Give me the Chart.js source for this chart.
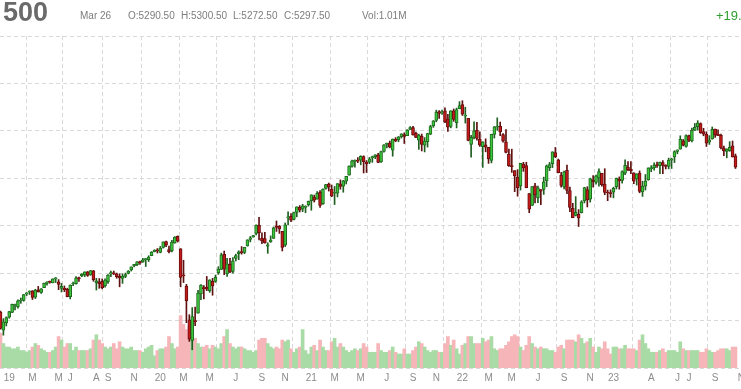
<!DOCTYPE html>
<html>
<head>
<meta charset="utf-8">
<script src="https://cdn.jsdelivr.net/npm/chart.js@4.4.1/dist/chart.umd.min.js"></script>
<style>
  html, body { margin: 0; padding: 0; background: #fff; }
  #wrap { position: relative; width: 741px; height: 389px; overflow: hidden; font-family: "Liberation Sans", Arial, sans-serif; }
  #chart { position: absolute; left: 0; top: 0; }
  #sym { position: absolute; right: 693px; top: -1px; font-size: 27px; line-height: 27px; font-weight: bold; color: #6a6a6a; white-space: nowrap; }
  .hd { position: absolute; top: 10px; font-size: 10px; line-height: 11px; color: #7d7d7d; white-space: nowrap; }
  #chg { position: absolute; left: 716px; top: 9px; font-size: 13px; line-height: 13px; color: #2f9e2f; white-space: nowrap; }
</style>
</head>
<body>
<div id="wrap">
  <canvas id="chart" width="741" height="389"></canvas>
  <div id="sym">S&amp;P 500</div>
  <div class="hd" style="left:80px">Mar 26</div>
  <div class="hd" style="left:128px">O:5290.50</div>
  <div class="hd" style="left:181px">H:5300.50</div>
  <div class="hd" style="left:233px">L:5272.50</div>
  <div class="hd" style="left:284px">C:5297.50</div>
  <div class="hd" style="left:362px">Vol:1.01M</div>
  <div id="chg">+19.75</div>
</div>
<script>
// weekly bars, first one is the week of 2018-12-17
const firstWeek = '2018-12-17'

const opens = [
	2590,2400,2476,2535,2586,2659,2644,2706,2713,2780,
	2800,2814,2747,2823,2797,2848,2892,2912,2898,2940,
	2909,2840,2841,2830,2752,2886,2889,2951,2971,2980,
	3013,2981,3024,2898,2908,2913,2866,2909,2988,2996,
	2994,2967,2944,2965,2996,3035,3078,3089,3123,3117,
	3143,3141,3183,3227,3240,3218,3271,3333,3248,3235,
	3318,3388,3257,2974,2863,2509,2290,2498,2579,2782,
	2846,2854,2815,2915,2913,3004,3038,3199,2993,3094,
	3018,3155,3205,3224,3219,3288,3356,3380,3418,3507,
	3370,3364,3285,3333,3367,3500,3494,3441,3296,3583,
	3600,3566,3641,3694,3675,3694,3723,3764,3803,3781,
	3851,3732,3892,3940,3886,3842,3844,3942,3916,3969,
	4034,4124,4179,4185,4192,4228,4169,4170,4216,4229,
	4248,4173,4284,4356,4372,4296,4410,4407,4438,4462,
	4450,4514,4535,4474,4403,4442,4348,4385,4464,4553,
	4610,4702,4689,4712,4628,4548,4710,4587,4733,4778,
	4655,4632,4356,4431,4505,4412,4332,4354,4327,4188,
	4462,4541,4547,4462,4385,4255,4130,4081,4013,3920,
	4151,4134,3839,3715,3920,3793,3880,3883,3971,4113,
	4155,4270,4195,4034,3910,4083,3871,3682,3609,3619,
	3638,3762,3881,3780,3978,3956,4005,4052,3939,3853,
	3843,3853,3911,3989,3978,4055,4119,4096,4057,3992,
	4055,3855,3917,3982,4102,4110,4140,4132,4166,4136,
	4126,4190,4226,4283,4308,4396,4337,4450,4394,4508,
	4543,4578,4492,4464,4380,4415,4520,4464,4453,4318,
	4284,4290,4342,4238
]
const highs = [
	2601,2520,2539,2598,2675,2673,2718,2738,2776,2795,
	2814,2816,2830,2860,2837,2894,2911,2917,2940,2954,
	2932,2892,2865,2841,2876,2905,2964,2959,2996,3014,
	3018,3028,3029,2945,2943,2939,2940,2985,3021,3022,
	3001,2993,2993,3001,3027,3066,3094,3121,3127,3155,
	3155,3183,3227,3247,3259,3282,3329,3337,3285,3347,
	3385,3393,3259,3136,2882,2562,2637,2641,2819,2880,
	2869,2965,2930,2945,2980,3068,3211,3233,3155,3155,
	3165,3200,3236,3280,3272,3352,3387,3399,3509,3588,
	3425,3429,3320,3393,3486,3550,3502,3441,3529,3646,
	3628,3644,3699,3712,3726,3711,3760,3826,3823,3860,
	3870,3889,3937,3950,3929,3914,3944,3983,3978,4020,
	4130,4191,4195,4218,4238,4237,4187,4220,4234,4249,
	4262,4286,4356,4372,4393,4415,4429,4440,4469,4480,
	4513,4545,4549,4486,4465,4466,4429,4475,4559,4608,
	4718,4714,4718,4744,4673,4713,4731,4740,4808,4818,
	4749,4632,4453,4595,4590,4490,4385,4416,4327,4465,
	4546,4637,4593,4471,4513,4308,4307,4081,4091,4158,
	4168,4169,3840,3913,3946,3919,3880,4012,4140,4167,
	4280,4325,4203,4062,4076,4140,3907,3736,3807,3670,
	3764,3905,3911,4001,4028,4034,4101,4052,4101,3876,
	3878,3906,4003,4015,4079,4195,4176,4176,4058,4048,
	4078,3969,4040,4110,4133,4163,4170,4170,4187,4143,
	4213,4212,4290,4299,4448,4409,4458,4456,4528,4578,
	4607,4584,4527,4490,4450,4541,4520,4511,4466,4340,
	4311,4386,4393,4256
]
const lows = [
	2409,2346,2443,2525,2584,2613,2631,2682,2704,2764,
	2775,2722,2732,2800,2785,2848,2873,2893,2898,2901,
	2825,2801,2805,2750,2728,2867,2883,2914,2964,2963,
	2966,2977,2914,2822,2840,2834,2853,2891,2964,2985,
	2946,2856,2892,2952,2992,3022,3066,3078,3091,3113,
	3070,3122,3183,3224,3212,3214,3264,3280,3214,3223,
	3315,3328,2856,2901,2478,2281,2192,2447,2579,2720,
	2727,2815,2798,2767,2903,2987,3038,2984,2965,3004,
	3000,3128,3142,3200,3205,3284,3329,3379,3403,3349,
	3310,3317,3209,3324,3365,3440,3419,3234,3280,3512,
	3543,3560,3594,3645,3648,3637,3706,3663,3749,3781,
	3694,3725,3884,3865,3806,3723,3804,3885,3853,3940,
	4034,4118,4118,4165,4142,4056,4061,4155,4168,4207,
	4164,4167,4276,4321,4321,4233,4385,4385,4424,4367,
	4450,4513,4455,4427,4305,4288,4278,4329,4459,4537,
	4595,4630,4672,4585,4495,4532,4600,4531,4733,4662,
	4582,4395,4222,4415,4401,4335,4115,4279,4157,4162,
	4424,4506,4450,4381,4267,4124,4062,3859,3811,3876,
	4073,3900,3637,3715,3741,3742,3721,3830,3911,4080,
	4113,4218,4057,3907,3887,3837,3647,3584,3603,3492,
	3634,3740,3698,3749,3906,3939,3918,3918,3827,3764,
	3800,3794,3887,3885,3949,4037,4079,4048,3943,3928,
	3847,3809,3876,3979,4069,4085,4114,4049,4048,4098,
	4099,4103,4166,4258,4307,4341,4328,4385,4383,4503,
	4507,4474,4448,4335,4357,4412,4431,4450,4309,4238,
	4216,4284,4223,4103
]
const closes = [
	2417,2486,2532,2596,2671,2665,2707,2708,2775,2793,
	2804,2743,2822,2801,2834,2893,2907,2905,2940,2946,
	2881,2860,2826,2752,2873,2887,2950,2942,2990,3014,
	2977,3026,2932,2919,2889,2847,2926,2979,3007,2992,
	2962,2952,2970,2986,3023,3067,3093,3120,3110,3141,
	3146,3169,3221,3240,3235,3265,3329,3295,3226,3328,
	3380,3338,2954,2972,2711,2305,2541,2489,2790,2875,
	2837,2831,2930,2864,2955,3044,3194,3041,3098,3009,
	3130,3185,3225,3216,3271,3351,3373,3397,3508,3427,
	3341,3319,3298,3348,3477,3483,3465,3270,3509,3585,
	3558,3638,3699,3663,3709,3703,3756,3825,3768,3841,
	3714,3887,3934,3907,3811,3842,3943,3913,3974,4020,
	4129,4185,4180,4181,4232,4174,4155,4204,4229,4247,
	4166,4281,4352,4370,4327,4412,4395,4437,4468,4441,
	4509,4535,4458,4432,4455,4357,4391,4471,4545,4605,
	4697,4683,4698,4595,4538,4712,4620,4725,4766,4677,
	4662,4398,4432,4500,4419,4349,4385,4329,4204,4463,
	4543,4546,4488,4392,4272,4132,4123,4024,3901,4158,
	4108,3901,3675,3912,3825,3899,3863,3962,4130,4145,
	4280,4228,4058,3924,4067,3873,3693,3586,3640,3583,
	3753,3901,3771,3993,3965,4026,4072,3934,3852,3845,
	3839,3895,3999,3972,4071,4136,4090,4079,3970,4046,
	3862,3917,3971,4109,4105,4138,4133,4169,4136,4124,
	4192,4205,4282,4299,4410,4348,4450,4399,4505,4536,
	4582,4478,4464,4370,4406,4516,4458,4450,4320,4288,
	4308,4327,4224,4117
]
// millions of contracts
const volumes = [
	10,7,6,6,5.5,5.5,6,5,5,4.5,
	5,6,7,6.5,5.5,5,4.5,4.5,5,6,
	9,8,6,7,7,5,6,5,5,5,
	5,5.5,8,9.5,8,7,6,5.5,6,7,
	5.5,7.5,6,5.5,5.5,6,5,5,5,4.5,
	5.5,6,6.5,3.5,5,5.5,5.5,6,9,7,
	5.5,6,15,12.5,11,12,10,8.5,7,6,
	6,6.5,5.5,6.5,6,5.5,7,9,11,7,
	6,5.5,6,6,5.5,5,5,4.5,5,8,
	8.5,8.5,7,6,5.5,6,5.5,8,7.5,8,
	5.5,4.5,5.5,6,11,5,4,6,6.5,5,
	8,6,5,5,7.5,8.5,6,7,6,5,
	4.5,5,5.5,5,5.5,7,6,4.5,4.5,4.5,
	7,5,4.5,4.5,5,6,4.5,4,4,5.5,
	4,4,5,6,7.5,7,6,5,4.5,5,
	5,4.5,4.5,7,9,6.5,8,5.5,4,6.5,
	7,9,9,7,7,7,8.5,7.5,8,9,
	5.5,5,5.5,5.5,6.5,7.5,9,9.5,9,6,
	5,6.5,9,7,6,5.5,6,5.5,5.5,5,
	5,4.5,6,6.5,5.5,8,8,8,7.5,9.5,
	8.5,7,7.5,8.5,6,4.5,6,5.5,7.5,5.5,
	4,6,6,5.5,5.5,6.5,5.5,5.5,5.5,5,
	8,9.5,7,5.5,4.5,4.5,4.5,5,5.5,4.5,
	5,5,5,4.5,7.5,5.5,5,5,5,5,
	5,4.5,4.5,5.5,5,4.5,4.5,5,5.5,5.5,
	5.5,5,6,6
]

// first bar of each labelled month
const monthTickIdx = [3,11,20,24,33,37,46,55,63,72,81,90,98,107,115,124,133,142,150,159,168,176,185,194,203,211,224,233,237,246,255]
const monthTickLbl = ['19','M','M','J','A','S','N','20','M','M','J','S','N','21','M','M','J','S','N','22','M','M','J','S','N','23','A','J','J','S','N']
// first bar of each quarter, for the vertical grid
const quarterIdx = [3,15,28,42,55,68,81,94,107,120,133,146,159,172,185,198,211,224,237,250]
const priceTicks = [2000,2500,3000,3500,4000,4500,5000,5500]

const weekIdx = closes.map((c, i) => i)
const isUp = closes.map((c, i) => c >= opens[i])

const xMin = -0.17
const xMax = 254.9
const gridColor = '#d9d9d9'
const font = "'Liberation Sans', Arial, sans-serif"

// keep the axes from reserving room for labels that run off the edges
const noPad = s => {
	s.paddingLeft = 0
	s.paddingRight = 0
	s.paddingTop = 0
	s.paddingBottom = 0
}

new Chart(document.getElementById('chart').getContext('2d'), {
	type: 'bar',
	data: {
		datasets: [
			{
				label: 'Volume',
				yAxisID: 'yv',
				order: 3,
				grouped: false,
				data: weekIdx.map(i => ({ x: i, y: volumes[i] })),
				backgroundColor: isUp.map(u => (u ? '#a8dba5' : '#f6b6b9')),
				borderWidth: 0,
				barThickness: 3,
			},
			{
				label: 'Range',
				yAxisID: 'y',
				order: 2,
				grouped: false,
				data: weekIdx.map(i => ({ x: i, y: [lows[i], highs[i]] })),
				backgroundColor: isUp.map(u => (u ? '#1f5f1f' : '#5f1010')),
				borderWidth: 0,
				barThickness: 1,
			},
			{
				label: 'Open/Close',
				yAxisID: 'y',
				order: 1,
				grouped: false,
				data: weekIdx.map(i => ({ x: i, y: [opens[i], closes[i]] })),
				backgroundColor: isUp.map(u => (u ? '#3cc43c' : '#c41c1c')),
				borderColor: isUp.map(u => (u ? '#1e6a1e' : '#6a0c0c')),
				borderWidth: 1,
				borderSkipped: false,
				barThickness: 3,
				minBarLength: 1,
			},
		],
	},
	options: {
		responsive: false,
		animation: false,
		devicePixelRatio: 1,
		events: [],
		layout: { autoPadding: false, padding: { top: 36, left: 0, right: 0, bottom: 0 } },
		plugins: { legend: { display: false }, tooltip: { enabled: false } },
		scales: {
			x: {
				type: 'linear',
				min: xMin,
				max: xMax,
				offset: false,
				position: 'bottom',
				grid: { display: false, drawTicks: false },
				border: { display: false },
				ticks: {
					autoSkip: false,
					maxRotation: 0,
					padding: 4,
					color: '#8c8c8c',
					font: { family: font, size: 10 },
					callback: (v, idx) => monthTickLbl[idx],
				},
				afterBuildTicks: s => {
					s.ticks = monthTickIdx.map(v => ({ value: v }))
				},
				afterFit: s => {
					s.height = 21
					noPad(s)
				},
			},
			xq: {
				type: 'linear',
				min: xMin,
				max: xMax,
				offset: false,
				position: 'bottom',
				grid: { color: gridColor, drawTicks: false },
				border: { display: false, dash: [4, 3] },
				ticks: { display: false },
				afterBuildTicks: s => {
					s.ticks = quarterIdx.map(v => ({ value: v }))
				},
				afterFit: s => {
					s.height = 0
					noPad(s)
				},
			},
			y: {
				type: 'linear',
				min: 2000,
				max: 5500,
				position: 'right',
				grid: { color: gridColor, drawTicks: false },
				border: { display: false, dash: [4, 3] },
				ticks: { display: false },
				afterBuildTicks: s => {
					s.ticks = priceTicks.map(v => ({ value: v }))
				},
				afterFit: s => {
					s.width = 0
					noPad(s)
				},
			},
			yv: {
				type: 'linear',
				min: 0,
				max: 95,
				display: false,
			},
		},
	},
})
</script>
</body>
</html>
